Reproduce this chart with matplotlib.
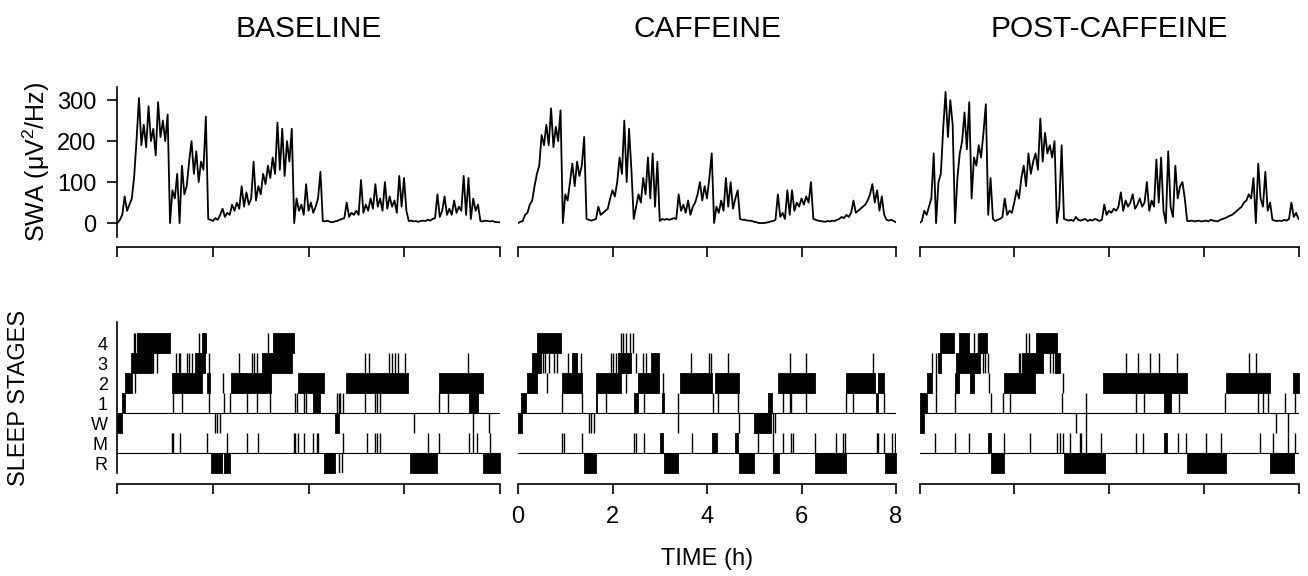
import numpy as np
import matplotlib
matplotlib.use('Agg')
import matplotlib.pyplot as plt

plt.rcParams['font.family'] = ['Liberation Sans', 'DejaVu Sans']
plt.rcParams['mathtext.fontset'] = 'custom'
plt.rcParams['mathtext.rm'] = 'Liberation Sans'

titles = ['BASELINE', 'CAFFEINE', 'POST-CAFFEINE']
hour_ticks = [0, 2, 4, 6, 8]
swa_ticks = [0, 100, 200, 300]
stage_order = ['R', 'M', 'W', '1', '2', '3', '4']

# SWA, one value every 0.05 h (0 .. 8 h)
swa_time = np.linspace(0, 8, 161)

swa_base = [
    0, 8, 20, 65, 30, 45, 60, 115, 205, 305, 190, 240, 185, 285, 200, 230, 165, 295, 210, 250,
    200, 265, 0, 80, 60, 120, 0, 140, 70, 90, 150, 200, 120, 175, 100, 150, 130, 260, 10, 8,
    5, 12, 8, 20, 35, 15, 25, 20, 45, 30, 50, 35, 90, 40, 75, 45, 60, 150, 55, 90,
    70, 120, 95, 140, 110, 160, 120, 245, 130, 230, 115, 200, 150, 230, 0, 60, 30, 45, 20, 95,
    30, 50, 25, 40, 60, 125, 5, 4, 6, 3, 2, 4, 5, 8, 10, 12, 50, 15, 25, 20,
    30, 20, 105, 25, 45, 30, 60, 35, 95, 40, 60, 30, 100, 35, 65, 40, 55, 25, 115, 40,
    110, 30, 5, 6, 4, 5, 3, 5, 6, 5, 8, 6, 10, 12, 70, 15, 30, 65, 20, 35,
    20, 55, 25, 40, 30, 115, 20, 110, 10, 60, 30, 45, 5, 4, 6, 5, 4, 5, 3, 2,
    2]

swa_caf = [
    0, 3, 5, 20, 25, 45, 55, 90, 120, 140, 215, 190, 240, 190, 280, 185, 235, 200, 275, 0,
    70, 55, 100, 145, 90, 150, 115, 140, 210, 10, 8, 6, 8, 10, 40, 20, 25, 30, 35, 60,
    80, 65, 100, 160, 120, 250, 100, 230, 130, 10, 40, 70, 50, 110, 70, 160, 60, 170, 40, 150,
    5, 10, 8, 10, 8, 10, 12, 10, 70, 30, 45, 25, 55, 20, 40, 50, 70, 100, 55, 90,
    60, 110, 170, 0, 40, 25, 55, 30, 110, 40, 100, 35, 60, 80, 10, 8, 8, 6, 6, 5,
    3, 2, 0, 0, 0, 1, 2, 4, 5, 8, 70, 15, 25, 10, 80, 20, 80, 30, 50, 40,
    60, 45, 65, 50, 100, 10, 8, 6, 5, 4, 3, 5, 4, 6, 5, 8, 10, 15, 12, 20,
    15, 25, 55, 25, 30, 35, 40, 45, 55, 70, 95, 50, 80, 30, 65, 20, 8, 6, 8, 5,
    2]

swa_post = [
    0, 5, 30, 20, 40, 60, 170, 0, 100, 120, 230, 320, 210, 300, 240, 0, 110, 170, 200, 270,
    180, 295, 60, 160, 140, 190, 160, 220, 290, 20, 110, 10, 5, 8, 10, 15, 60, 20, 30, 25,
    50, 80, 60, 110, 140, 90, 170, 120, 150, 170, 130, 255, 150, 220, 170, 190, 160, 200, 0, 40,
    190, 10, 8, 6, 8, 5, 15, 8, 6, 8, 10, 5, 8, 6, 10, 8, 5, 8, 45, 20,
    30, 25, 35, 30, 40, 75, 30, 55, 40, 50, 70, 35, 45, 60, 40, 50, 100, 30, 55, 40,
    155, 50, 160, 30, 0, 175, 40, 15, 140, 60, 90, 100, 60, 5, 5, 6, 4, 5, 6, 4,
    5, 6, 4, 8, 6, 5, 4, 8, 10, 12, 15, 18, 20, 25, 30, 35, 40, 50, 55, 70,
    60, 110, 0, 145, 60, 40, 125, 30, 50, 8, 6, 5, 6, 5, 8, 6, 10, 50, 15, 25,
    10]

# hypnograms: solid stretches (start h, end h, stage) and single epochs (stage -> times)
base_blocks = [
    (0.00, 0.10, 'W'), (0.09, 0.16, '1'), (0.16, 0.30, '2'), (0.28, 0.72, '3'),
    (0.40, 1.10, '4'), (1.14, 1.77, '2'), (1.87, 1.94, '2'), (1.63, 1.84, '3'),
    (1.78, 1.85, '4'), (1.95, 2.19, 'R'), (2.24, 2.36, 'R'), (2.38, 3.21, '2'),
    (3.02, 3.65, '3'), (3.25, 3.69, '4'), (3.78, 4.33, '2'), (4.10, 4.24, '1'),
    (4.33, 4.56, 'R'), (4.56, 4.63, 'W'), (4.79, 6.09, '2'), (6.12, 6.70, 'R'),
    (6.74, 7.66, '2'), (7.37, 7.56, '1'), (7.66, 8.00, 'R')]
base_epochs = {
    '4': [0.34, 0.37, 1.70, 3.16],
    '3': [0.75, 0.82, 1.23, 1.28, 1.31, 1.45, 1.49, 1.56, 1.91, 2.55, 2.81, 2.85, 2.92,
          5.19, 5.26, 5.68, 5.75, 5.81, 5.88, 6.02, 7.35],
    '2': [0.37, 2.21],
    '1': [1.16, 1.35, 1.91, 2.22, 2.36, 2.71, 2.92, 3.20, 3.72, 3.76, 3.90, 3.94, 4.60,
          4.64, 4.67, 4.73, 5.19, 5.40, 5.43, 5.50, 6.74, 6.93],
    'W': [2.05, 2.08, 2.15, 6.20, 7.45, 7.77],
    'M': [1.14, 1.17, 1.31, 1.88, 2.29, 2.71, 2.95, 3.69, 3.72, 3.79, 3.90, 4.10, 4.17,
          4.20, 4.73, 5.22, 5.40, 5.43, 5.50, 6.51, 6.74, 7.37, 7.45, 7.53, 7.80],
    'R': [4.63, 4.70]}

caf_blocks = [
    (0.00, 0.09, 'W'), (0.06, 0.16, '1'), (0.18, 0.41, '2'), (0.30, 0.48, '3'),
    (0.41, 0.91, '4'), (0.94, 1.36, '2'), (1.15, 1.24, '3'), (1.40, 1.65, 'R'),
    (1.65, 1.68, '1'), (1.66, 2.18, '2'), (2.11, 2.39, '3'), (2.46, 2.53, '1'),
    (2.53, 2.99, '2'), (2.81, 2.99, '3'), (3.00, 3.06, 'M'), (3.05, 3.10, '1'),
    (3.08, 3.38, 'R'), (3.42, 4.10, '2'), (4.11, 4.21, 'M'), (4.16, 4.67, '2'),
    (4.60, 4.65, 'M'), (4.67, 5.00, 'R'), (5.00, 5.36, 'W'), (5.29, 5.38, '1'),
    (5.40, 5.52, 'R'), (5.50, 6.28, '2'), (6.28, 6.94, 'R'), (6.95, 7.55, '2'),
    (7.57, 7.62, '1'), (7.61, 7.75, '2'), (7.76, 8.00, 'R')]
caf_epochs = {
    '4': [2.18, 2.22, 2.29, 2.36, 2.43],
    '3': [0.52, 0.58, 0.66, 0.76, 0.83, 1.05, 1.33, 1.97, 2.00, 2.07, 2.50, 2.64, 2.71,
          3.66, 4.05, 4.09, 4.44, 5.75, 6.10, 7.52],
    '2': [0.62, 2.28, 3.06],
    '1': [0.94, 1.36, 1.86, 2.67, 3.38, 4.12, 4.23, 4.65, 5.61, 5.75, 5.78, 6.10, 6.95,
          7.09, 7.74],
    'W': [1.51, 1.55, 1.61, 3.39, 4.67, 5.40, 5.43],
    'M': [0.94, 0.98, 1.35, 2.46, 2.50, 2.67, 3.68, 5.08, 5.40, 5.61, 5.78, 5.82, 6.28,
          6.74, 6.88, 6.92, 7.59, 7.62, 7.74, 7.91, 7.98],
    'R': []}

post_blocks = [
    (0.00, 0.10, 'W'), (0.01, 0.15, '1'), (0.15, 0.26, '2'), (0.39, 0.46, '3'),
    (0.44, 0.72, '4'), (0.75, 0.84, '2'), (0.76, 1.27, '3'), (0.83, 1.04, '4'),
    (1.06, 1.16, '2'), (1.25, 1.42, '4'), (1.44, 1.51, 'M'), (1.51, 1.79, 'R'),
    (1.79, 2.43, '2'), (2.17, 2.60, '3'), (2.46, 2.90, '4'), (2.85, 2.96, '3'),
    (3.05, 3.91, 'R'), (3.88, 5.64, '2'), (5.16, 5.23, 'M'), (5.17, 5.31, '1'),
    (5.64, 6.46, 'R'), (6.46, 7.40, '2'), (7.40, 7.90, 'R'), (7.88, 8.00, '2')]
post_epochs = {
    '4': [1.16, 1.23, 2.25, 2.32],
    '3': [0.27, 0.35, 1.34, 1.39, 1.44, 2.10, 2.13, 2.75, 2.82, 4.36, 4.61, 4.86, 5.05,
          5.43, 6.95, 7.11],
    '2': [0.35, 1.46, 3.03],
    '1': [0.34, 0.74, 1.51, 1.77, 1.90, 3.00, 3.52, 4.57, 4.74, 5.47, 6.44, 7.14, 7.25,
          7.35, 7.71, 7.92],
    'W': [3.31, 3.52, 7.53, 7.78],
    'M': [0.32, 0.74, 1.04, 1.79, 2.34, 2.90, 2.96, 3.03, 3.17, 3.38, 3.41, 3.52, 3.83,
          4.57, 4.71, 5.45, 5.63, 6.04, 6.37, 7.19, 7.46, 7.78, 7.92],
    'R': []}

swa_all = [swa_base, swa_caf, swa_post]
blocks_all = [base_blocks, caf_blocks, post_blocks]
epochs_all = [base_epochs, caf_epochs, post_epochs]

W, H = 1308, 576
fig = plt.figure(figsize=(W / 100, H / 100), dpi=100)


def px_axes(x0, x1, y0, y1):
    return fig.add_axes([x0 / W, 1 - y1 / H, (x1 - x0) / W, (y1 - y0) / H])


panel_x = [(117.5, 499.5), (518, 896), (919.5, 1298.5)]
level = {s: i for i, s in enumerate(stage_order)}

for i in range(3):
    x0, x1 = panel_x[i]

    # --- SWA trace
    ax = px_axes(x0, x1, 87, 237)
    ax.plot(swa_time, swa_all[i], color='k', lw=1.3)
    ax.set_xlim(0, 8)
    ax.set_ylim(-34, 332)
    for s in ['top', 'right']:
        ax.spines[s].set_visible(False)
    ax.spines['bottom'].set_position(('outward', 7))
    ax.spines['bottom'].set_linewidth(1.2)
    ax.set_xticks(hour_ticks)
    ax.set_xticklabels([])
    ax.tick_params(axis='x', length=7, width=1.2, direction='out')
    if i == 0:
        ax.spines['left'].set_linewidth(1.2)
        ax.set_yticks(swa_ticks)
        ax.tick_params(axis='y', length=7, width=1.2, labelsize=17, pad=8)
        ax.set_ylabel('SWA (μV$^2$/Hz)', fontsize=18, labelpad=4)
    else:
        ax.spines['left'].set_visible(False)
        ax.set_yticks([])
    ax.set_title(titles[i], fontsize=21.5, pad=36)

    # --- hypnogram
    hx = px_axes(x0, x1, 322, 473)
    for s, e, st in blocks_all[i]:
        lv = level[st]
        hx.broken_barh([(s, e - s)], (lv - 0.5, 1), facecolor='k', edgecolor='k', linewidth=0.6)
    for st, times in epochs_all[i].items():
        lv = level[st]
        hx.vlines(times, lv - 0.5, lv + 0.5, color='k', lw=1.0)
    hx.axhline(2.5, color='k', lw=0.8)
    hx.axhline(0.5, color='k', lw=0.8)
    hx.set_xlim(0, 8)
    hx.set_ylim(-0.5, 7.05)
    for s in ['top', 'right']:
        hx.spines[s].set_visible(False)
    hx.spines['bottom'].set_position(('outward', 8))
    hx.spines['bottom'].set_linewidth(1.2)
    hx.set_xticks(hour_ticks)
    hx.tick_params(axis='x', length=7, width=1.2, direction='out', labelsize=17, pad=9)
    if i == 1:
        hx.set_xlabel('TIME (h)', fontsize=17, labelpad=14)
    else:
        hx.set_xticklabels([])
    if i == 0:
        hx.spines['left'].set_linewidth(1.2)
        hx.set_yticks(range(len(stage_order)))
        hx.set_yticklabels(stage_order, fontsize=13)
        hx.tick_params(axis='y', length=0, pad=7)
        hx.set_ylabel('SLEEP STAGES', fontsize=17, labelpad=44)
    else:
        hx.spines['left'].set_visible(False)
        hx.set_yticks([])

fig.savefig('out.png', dpi=100)
